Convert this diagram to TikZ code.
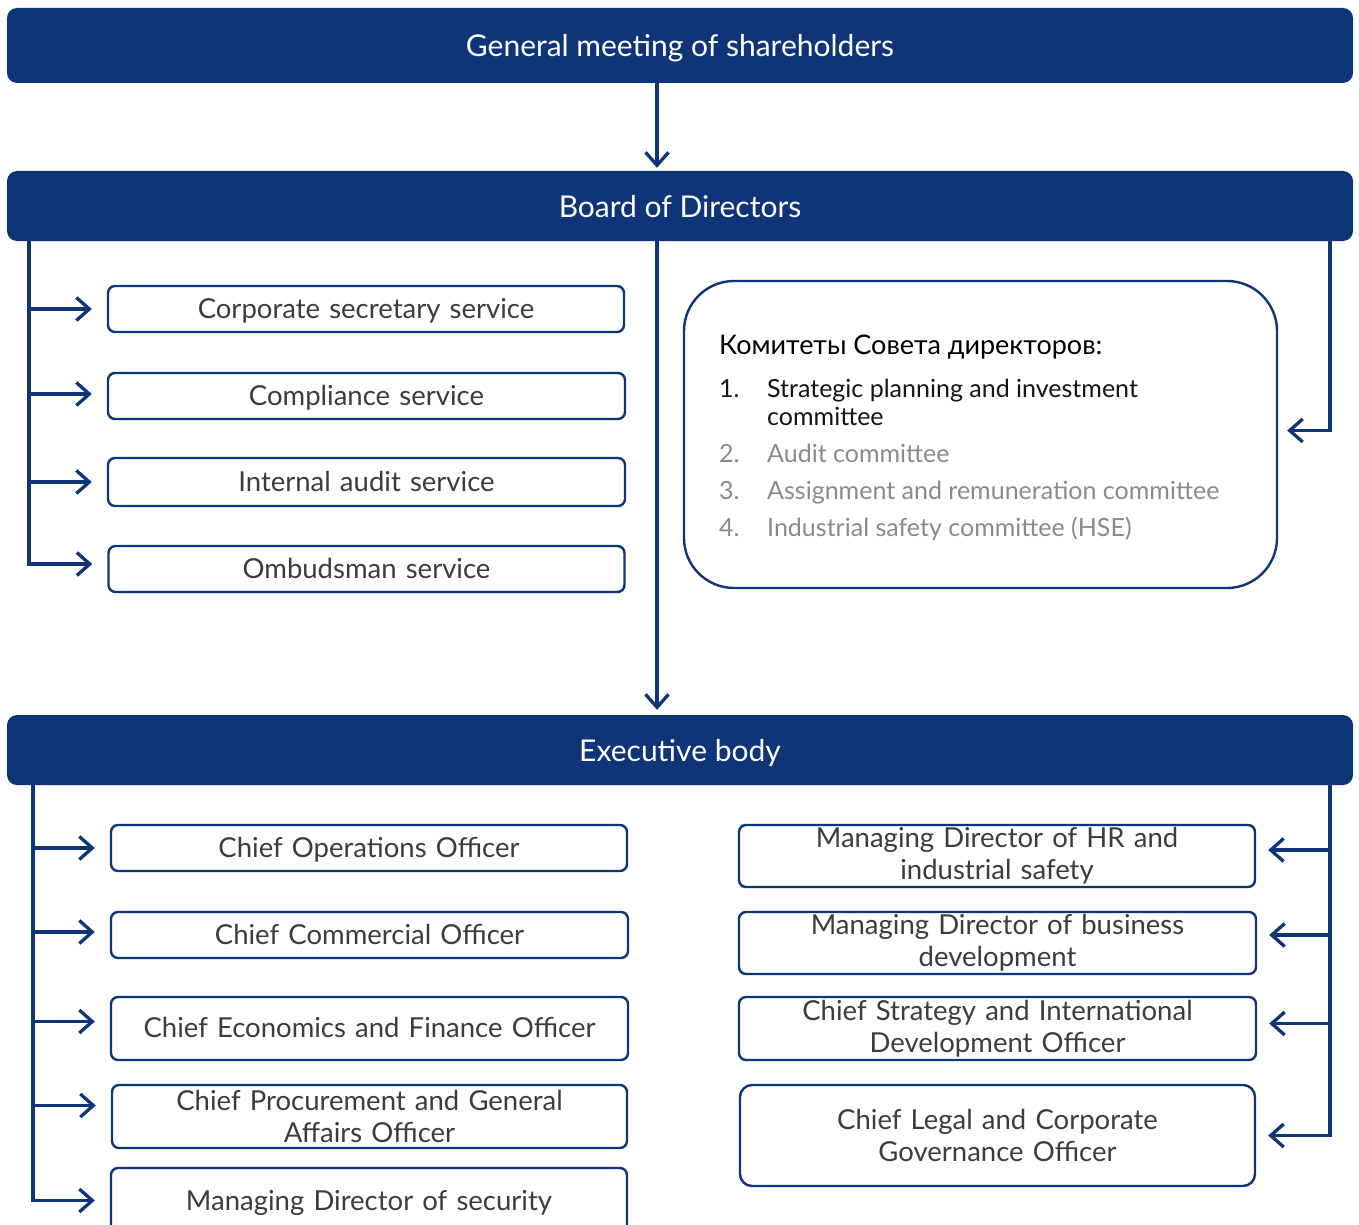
\documentclass[tikz,border=0pt]{standalone}
\usepackage{fontspec}
\setmainfont{Lato}
\usetikzlibrary{arrows.meta}
\definecolor{navy}{HTML}{0E3578}
\definecolor{txt}{HTML}{3C3C3C}
\definecolor{lgray}{HTML}{8A8A8A}
\definecolor{dark}{HTML}{141414}
\begin{document}
\begin{tikzpicture}[x=1pt,y=-1pt,
  bar/.style={fill=navy, rounded corners=10pt, minimum width=1346pt, text=white, font=\fontsize{30}{34}\selectfont, inner sep=0pt, text height=26pt, text depth=3pt},
  sbox/.style={draw=navy, line width=2.4pt, rounded corners=7pt, fill=white, minimum width=516pt, text width=510pt, align=center, text=txt, font=\fontsize{27.5}{32}\selectfont, inner sep=0pt},
  one/.style={text height=22pt, text depth=4pt},
  arr/.style={draw=navy, line width=3.3pt, -{Straight Barb[length=13pt,width=23pt]}},
  ctxt/.style={anchor=base west, inner sep=0pt, font=\fontsize{25}{28}\selectfont},
]
\useasboundingbox (0,0) rectangle (1359,1225);
\clip (0,0) rectangle (1359,1225);
\fill[white] (0,0) rectangle (1359,1225);

% bars
\node[bar, minimum height=75pt] (gm) at (680,45.5) {General meeting of shareholders};
\node[bar, minimum height=70pt] (bod) at (680,206) {Board of Directors};
\node[bar, minimum height=70pt] (exec) at (680,750) {Executive body};

% helper x positions
\coordinate (mx) at (657,0);
\coordinate (lx) at (29,0);
\coordinate (lxb) at (33,0);
\coordinate (rx) at (1330,0);

% top-left services
\node[sbox, one, minimum height=46pt] (css) at (366,309) {Corporate secretary service};
\node[sbox, one, minimum height=46pt, minimum width=517pt] (cps) at (366.5,396) {Compliance service};
\node[sbox, one, minimum height=48pt, minimum width=517pt] (ias) at (366.5,482) {Internal audit service};
\node[sbox, one, minimum height=46pt] (oms) at (366.5,569) {Ombudsman service};

% committees
\node[draw=navy, line width=2.4pt, rounded corners=50pt, minimum width=593pt, minimum height=307pt, inner sep=0pt] (comm) at (980.5,434.5) {};
\node[ctxt, font=\fontsize{27}{30}\selectfont, text=black] (chead) at (719,354) {Комитеты Совета директоров:};
\node[ctxt, text=dark] (n1) at (719,397) {1.};
\node[ctxt, text=dark] (t1a) at (767,397) {Strategic planning and investment};
\node[ctxt, text=dark] (t1b) at (767,425) {committee};
\node[ctxt, text=lgray] (n2) at (719,462) {2.};
\node[ctxt, text=lgray] (t2) at (767,462) {Audit committee};
\node[ctxt, text=lgray] (n3) at (719,499) {3.};
\node[ctxt, text=lgray] (t3) at (767,499) {Assignment and remuneration committee};
\node[ctxt, text=lgray] (n4) at (719,536) {4.};
\node[ctxt, text=lgray] (t4) at (767,536) {Industrial safety committee (HSE)};

% bottom-left officers
\node[sbox, one, minimum height=46pt] (coo) at (369,848) {Chief Operations Officer};
\node[sbox, one, minimum height=46pt, minimum width=517pt] (cco) at (369.5,935) {Chief Commercial Officer};
\node[sbox, one, minimum height=63pt, minimum width=517pt] (cef) at (369.5,1028.5) {Chief Economics and Finance Officer};
\node[sbox, minimum height=63pt, minimum width=515pt] (cpg) at (369.5,1116.5) {Chief Procurement and General\\Affairs Officer};
\node[sbox, one, minimum height=67pt] (mds) at (369,1201.5) {Managing Director of security};

% bottom-right officers
\node[sbox, minimum height=62pt] (hr) at (997,856) {Managing Director of HR and\\industrial safety};
\node[sbox, minimum height=62pt, minimum width=517pt] (bd) at (997.5,943) {Managing Director of business\\development};
\node[sbox, minimum height=63pt, minimum width=517pt] (csi) at (997.5,1028.5) {Chief Strategy and International\\Development Officer};
\node[sbox, minimum height=101pt, minimum width=515pt, rounded corners=12pt] (clc) at (997.5,1135.5) {Chief Legal and Corporate\\Governance Officer};

% connectors
\draw[arr, shorten >=3pt] (gm.south -| mx) -- (bod.north -| mx);
\draw[arr, shorten >=5pt] (bod.south -| mx) -- (exec.north -| mx);

\draw[arr, shorten >=15pt] (bod.south -| lx) |- (css.west);
\draw[arr, shorten >=15pt] (bod.south -| lx) |- ([yshift=2pt]cps.west);
\draw[arr, shorten >=15pt] (bod.south -| lx) |- (ias.west);
\draw[arr, shorten >=15pt] (bod.south -| lx) |- ([yshift=5pt]oms.west);
\draw[arr, shorten >=9pt] (bod.south -| rx) |- ([yshift=4pt]comm.east);

\draw[arr, shorten >=15pt] (exec.south -| lxb) |- (coo.west);
\draw[arr, shorten >=15pt] (exec.south -| lxb) |- ([yshift=3pt]cco.west);
\draw[arr, shorten >=15pt] (exec.south -| lxb) |- ([yshift=7pt]cef.west);
\draw[arr, shorten >=15pt] (exec.south -| lxb) |- ([yshift=11pt]cpg.west);
\draw[arr, shorten >=15pt] (exec.south -| lxb) |- ([yshift=1pt]mds.west);

\draw[arr, shorten >=12pt] (exec.south -| rx) |- ([yshift=6pt]hr.east);
\draw[arr, shorten >=12pt] (exec.south -| rx) |- ([yshift=8pt]bd.east);
\draw[arr, shorten >=12pt] (exec.south -| rx) |- ([yshift=5pt]csi.east);
\draw[arr, shorten >=12pt] (exec.south -| rx) |- (clc.east);
\end{tikzpicture}
\end{document}
